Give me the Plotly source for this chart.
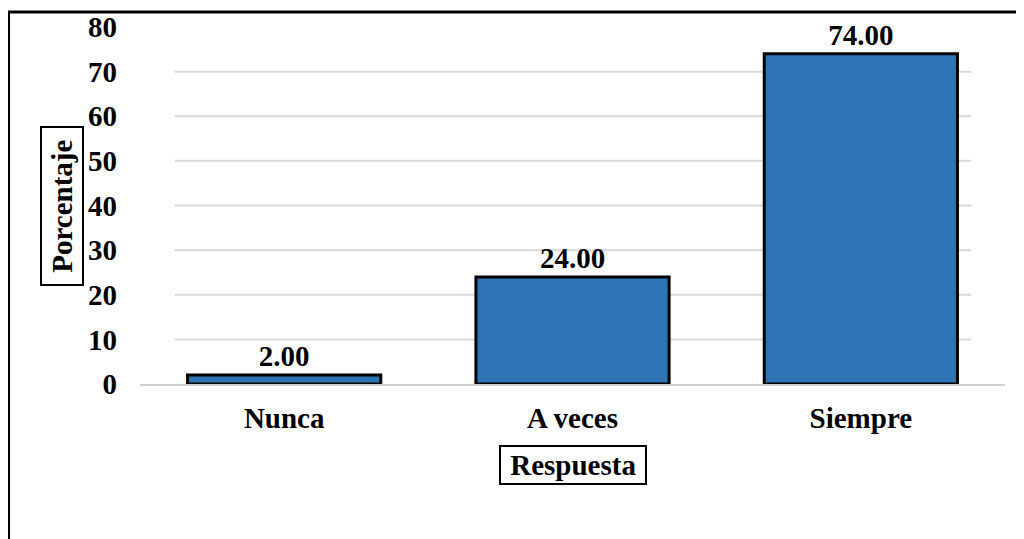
import plotly.graph_objects as go

categories = ["Nunca", "A veces", "Siempre"]
values = [2.00, 24.00, 74.00]
y_ticks = [0, 10, 20, 30, 40, 50, 60, 70, 80]
grid_values = [10, 20, 30, 40, 50, 60, 70]

FONT = "Liberation Serif"
FS = 29

fig = go.Figure()
fig.add_trace(go.Bar(
    x=categories, y=values,
    marker=dict(color="#2E75B6", line=dict(color="black", width=3)),
    width=0.67,
    text=[f"<b>{v:.2f}</b>" for v in values],
    textposition="outside",
    textfont=dict(family=FONT, size=FS, color="black"),
    cliponaxis=False,
))

shapes = []
for g in grid_values:
    shapes.append(dict(type="line", xref="x", yref="y", x0=-0.38, x1=2.383, y0=g, y1=g,
                       line=dict(color="#D9D9D9", width=2), layer="below"))
# outer chart border
shapes.append(dict(type="rect", xref="paper", yref="paper", x0=-0.152, x1=1.2, y0=-0.6, y1=1.042,
                   line=dict(color="black", width=3), layer="above"))

fig.update_layout(
    width=1016, height=531,
    margin=dict(l=132, r=19, t=19, b=155, autoexpand=False),
    plot_bgcolor="white", paper_bgcolor="white",
    showlegend=False,
    font=dict(family=FONT, size=FS, color="black"),
    shapes=shapes,
    xaxis=dict(
        range=[-0.5, 2.5], automargin=False,
        showline=True, linecolor="#D0D0D0", linewidth=2,
        ticks="", showgrid=False,
        tickfont=dict(family=FONT, size=FS, color="black"),
        ticklabelstandoff=7,
        tickvals=[0, 1, 2], ticktext=[f"<b>{c}</b>" for c in categories],
    ),
    yaxis=dict(
        range=[0, 80], automargin=False,
        tickvals=y_ticks, ticktext=[f"<b>{t}</b>" for t in y_ticks],
        showgrid=False, zeroline=False, showline=False, ticks="",
        tickfont=dict(family=FONT, size=FS, color="black"),
        ticklabelstandoff=22,
    ),
    annotations=[
        dict(text="\u00a0<b>Porcentaje</b>\u00a0", xref="paper", yref="paper",
             x=(62 - 140) / 865, y=(384 - 206) / 357, xanchor="center", yanchor="middle",
             textangle=-90, showarrow=False,
             font=dict(family=FONT, size=FS, color="black"),
             bordercolor="black", borderwidth=2, borderpad=4, bgcolor="white"),
        dict(text="\u00a0<b>Respuesta</b>\u00a0", xref="paper", yref="paper",
             x=(573 - 140) / 865, y=(384 - 464.5) / 357, xanchor="center", yanchor="middle",
             showarrow=False,
             font=dict(family=FONT, size=FS, color="black"),
             bordercolor="black", borderwidth=2, borderpad=2, bgcolor="white"),
    ],
)

fig.write_html("out.html")
